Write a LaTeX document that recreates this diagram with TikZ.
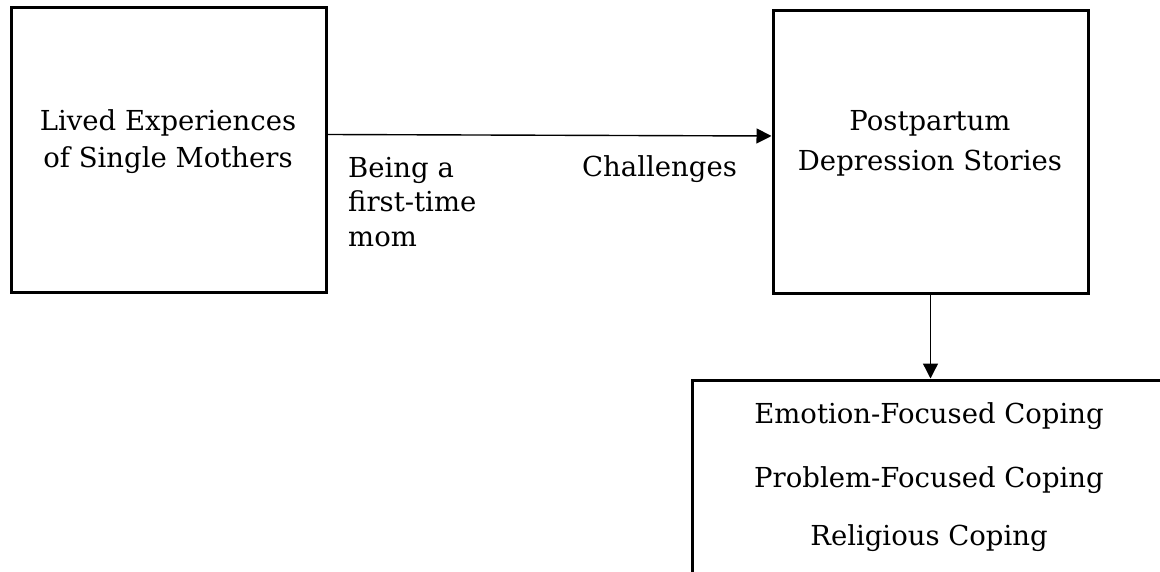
\documentclass[tikz,border=0pt]{standalone}
\usepackage{fontspec}
\setmainfont{DejaVu Serif}
\usetikzlibrary{arrows.meta}
\begin{document}
\begin{tikzpicture}[x=1pt,y=-1pt,
  box/.style={draw, line width=3pt, rectangle, inner sep=0pt},
  txt/.style={anchor=base, inner sep=0pt, font=\fontsize{27.5}{32}\selectfont},
  ltxt/.style={anchor=base west, inner sep=0pt, font=\fontsize{27.5}{32}\selectfont},
  arr/.style={line width=1.4pt, -{Triangle[length=15pt,width=15pt]}}]
\clip (0,0) rectangle (1160,572);
\useasboundingbox (0,0) rectangle (1160,572);
\node[box, minimum width=315pt, minimum height=285pt] (lived) at (168.5,150.5) {};
\node[box, minimum width=315pt, minimum height=283pt] (post) at (930.5,152.5) {};
\node[box, minimum width=474pt, minimum height=260pt, anchor=north] (cope) at (929,378.5) {};
\node[txt] (l1) at (168,131) {Lived Experiences};
\node[txt] (l2) at (168,168) {of Single Mothers};
\node[txt] (p1) at (930,131) {Postpartum};
\node[txt] (p2) at (930,171) {Depression Stories};
\node[ltxt] (b1) at (348,178) {Being a};
\node[ltxt] (b2) at (348,212) {first-time};
\node[ltxt] (b3) at (348,247) {mom};
\node[ltxt] (ch) at (582,177) {Challenges};
\node[txt] (c1) at (929,423) {Emotion-Focused Coping};
\node[txt] (c2) at (929,487) {Problem-Focused Coping};
\node[txt] (c3) at (929,545) {Religious Coping};
\draw[arr] (lived.east |- 0,134.5) -- (post.west |- 0,136);
\draw[arr] (post.south) -- (post.south |- cope.north);
\end{tikzpicture}
\end{document}
